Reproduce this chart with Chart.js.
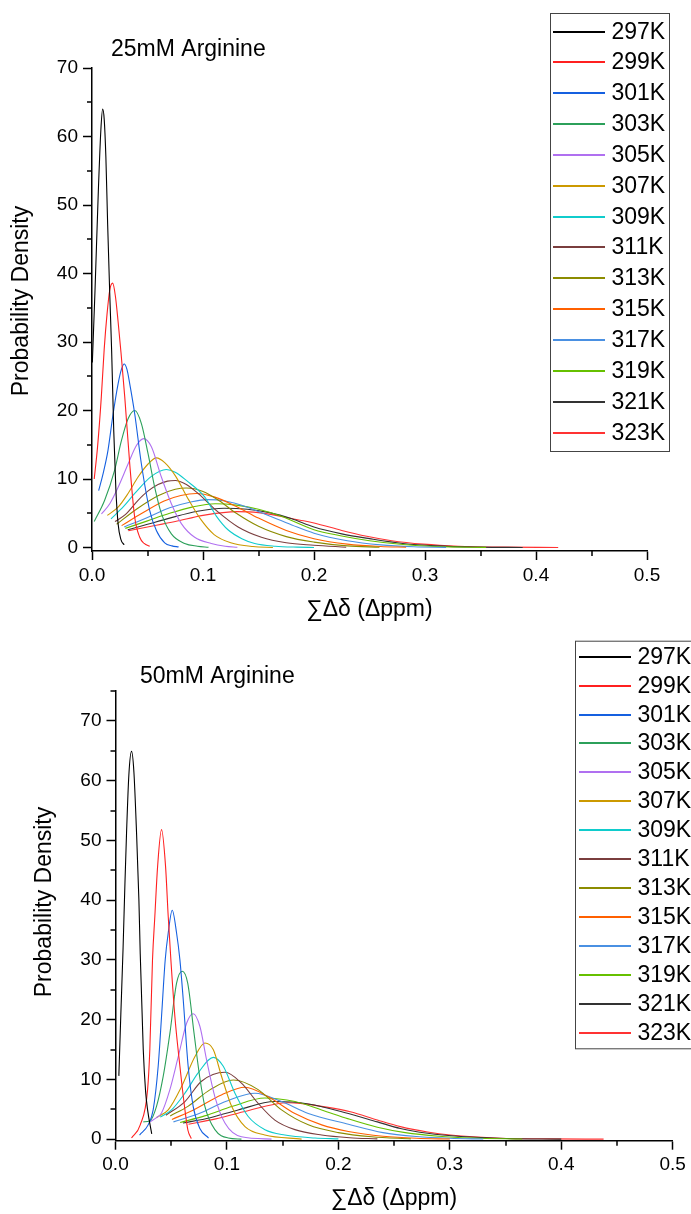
<!DOCTYPE html>
<html><head><meta charset="utf-8">
<script src="https://cdn.jsdelivr.net/npm/chart.js@4.4.0/dist/chart.umd.min.js"></script>
<style>
html,body{margin:0;padding:0;background:#fff;width:691px;height:1214px;overflow:hidden;}
canvas{position:absolute;left:0;display:block;}
</style></head><body>
<canvas id="c1" width="691" height="630" style="top:0"></canvas>
<canvas id="c2" width="691" height="584" style="top:630px"></canvas>
<script>
// ---------- labels & ticks ----------
const temps = ['297K','299K','301K','303K','305K','307K','309K','311K','313K','315K','317K','319K','321K','323K'];
const chartTitles = ['25mM Arginine', '50mM Arginine'];
const xTitle = '∑Δδ (Δppm)';
const yTitle = 'Probability Density';
const xTickValues = [0, 0.1, 0.2, 0.3, 0.4, 0.5];
const xMinorValues = [0.05, 0.15, 0.25, 0.35, 0.45];
const yTickValues = [0, 10, 20, 30, 40, 50, 60, 70];
const yMinor25 = [5, 15, 25, 35, 45, 55, 65];
const yMinor50 = [5, 15, 25, 35, 45, 55, 65, 75];

// ---------- 25 mM series [x, density] ----------
const a25_297 = [[0.0003,27],[0.0027,37.5],[0.0057,52],[0.008,61],[0.0096,64],[0.011,62.5],[0.0125,57],[0.0141,47.2],[0.0159,37.5],[0.0177,28.7],[0.0196,17],[0.0215,8.5],[0.0235,3.5],[0.026,1.2],[0.029,0.4]];
const a25_299 = [[0.002,10],[0.005,14.7],[0.0084,22],[0.011,29],[0.0135,34],[0.016,37.6],[0.0186,38.6],[0.021,36.8],[0.0235,33],[0.0261,28.5],[0.0295,22],[0.034,12.2],[0.0384,4.5],[0.043,1.5],[0.047,0.6],[0.052,0.2]];
const a25_301 = [[0.006,8.3],[0.01,10.8],[0.0144,14.2],[0.019,19.5],[0.0235,23.9],[0.0265,26],[0.029,26.8],[0.0315,26],[0.034,23.9],[0.0385,19.5],[0.0445,12.2],[0.052,5.4],[0.058,2.5],[0.0655,0.7],[0.072,0.25],[0.078,0.1]];
const a25_303 = [[0.002,3.8],[0.0114,6.9],[0.0204,11.3],[0.0265,15.6],[0.0325,18.8],[0.0385,20.0],[0.0445,18.1],[0.0505,13.7],[0.0565,8.8],[0.0625,5.0],[0.0715,2.0],[0.0835,0.6],[0.095,0.2],[0.105,0.05]];
const a25_305 = [[0.0085,4.9],[0.016,6.4],[0.0235,8.8],[0.0325,12.2],[0.040,14.9],[0.0466,15.9],[0.0535,14.7],[0.0625,10.3],[0.0715,6.4],[0.0805,3.5],[0.0925,1.5],[0.1075,0.6],[0.12,0.2],[0.131,0.05]];
const a25_307 = [[0.0138,4.7],[0.0235,5.9],[0.0325,7.9],[0.0415,10.3],[0.0505,12.2],[0.058,13.1],[0.0655,12.4],[0.075,10.5],[0.087,7.0],[0.0985,4.0],[0.11,1.9],[0.125,0.7],[0.145,0.15],[0.163,0.02]];
const a25_309 = [[0.0171,4.2],[0.0285,6.0],[0.0385,7.9],[0.0535,10.4],[0.067,11.4],[0.075,11.0],[0.085,9.8],[0.1015,7.4],[0.112,4.6],[0.1225,2.6],[0.135,1.3],[0.1466,0.6],[0.165,0.2],[0.185,0.06],[0.2,0.02]];
const a25_311 = [[0.0207,3.8],[0.03,4.8],[0.0415,6.9],[0.05,8.2],[0.0595,9.2],[0.068,9.7],[0.075,9.8],[0.085,9.2],[0.0955,7.9],[0.1135,5.2],[0.1316,3.0],[0.1526,1.5],[0.175,0.7],[0.2,0.35],[0.229,0.05]];
const a25_313 = [[0.0222,3.4],[0.04,5.6],[0.06,7.6],[0.075,8.5],[0.085,8.7],[0.1,8.2],[0.115,6.8],[0.13,5.0],[0.15,3.1],[0.175,1.6],[0.2,0.8],[0.23,0.25],[0.259,0.05]];
const a25_315 = [[0.0267,3.2],[0.045,5.0],[0.065,6.8],[0.08,7.6],[0.094,7.9],[0.11,7.4],[0.13,6.0],[0.15,4.3],[0.175,2.5],[0.2,1.3],[0.23,0.5],[0.26,0.15],[0.283,0.05]];
const a25_317 = [[0.029,3.0],[0.05,4.4],[0.07,5.8],[0.09,6.7],[0.104,7.0],[0.12,6.8],[0.14,5.9],[0.16,4.6],[0.18,3.3],[0.2,2.1],[0.23,1.0],[0.26,0.4],[0.29,0.12],[0.319,0.03]];
const a25_319 = [[0.030,2.8],[0.05,3.9],[0.07,5.0],[0.09,5.9],[0.111,6.4],[0.13,6.2],[0.15,5.6],[0.17,4.6],[0.2,2.6],[0.225,1.7],[0.25,1.0],[0.28,0.45],[0.31,0.15],[0.355,0.03]];
const a25_321 = [[0.0322,2.6],[0.05,3.4],[0.07,4.3],[0.095,5.3],[0.119,5.75],[0.14,5.6],[0.16,5.1],[0.18,4.2],[0.2,3.0],[0.225,2.0],[0.25,1.3],[0.28,0.6],[0.31,0.25],[0.35,0.07],[0.388,0.02]];
const a25_323 = [[0.0327,2.45],[0.05,3.0],[0.075,3.8],[0.1,4.7],[0.131,5.25],[0.15,5.1],[0.1874,4.0],[0.2,3.6],[0.225,2.5],[0.2475,1.65],[0.27,1.0],[0.2985,0.5],[0.33,0.2],[0.37,0.07],[0.42,0.01]];

// ---------- 50 mM series [x, density] ----------
const a50_297 = [[0.003,10.6],[0.0048,21],[0.0068,32],[0.0085,43],[0.0099,51.2],[0.012,61],[0.0144,64.9],[0.0165,61.5],[0.0189,51.2],[0.021,40],[0.0222,31],[0.0249,15],[0.027,8],[0.0288,4.9],[0.0325,0.9]];
const a50_299 = [[0.0144,0.2],[0.0222,2.4],[0.0288,8.3],[0.0308,15],[0.0332,30],[0.0353,37.3],[0.0378,45.7],[0.0413,51.8],[0.0449,45.7],[0.0473,37.3],[0.0497,30],[0.0533,20.5],[0.0578,12.2],[0.0623,4.9],[0.065,1.5],[0.068,0.1]];
const a50_301 = [[0.0216,0.7],[0.0293,2.4],[0.0338,4.9],[0.0383,12.2],[0.0413,20.5],[0.0446,30],[0.0473,34.5],[0.0509,38.3],[0.0548,34.5],[0.0578,30],[0.0608,23.3],[0.0652,12.2],[0.0697,5.5],[0.0757,1.8],[0.0835,0.2]];
const a50_303 = [[0.025,2.9],[0.031,3.1],[0.0368,5.5],[0.0428,10.5],[0.0488,17.7],[0.0548,26.1],[0.0599,28.1],[0.0648,26.1],[0.0705,17.7],[0.0755,10.5],[0.0802,5.5],[0.0892,1.6],[0.1012,0.2],[0.113,0.02]];
const a50_305 = [[0.031,2.9],[0.0368,3.6],[0.0413,4.4],[0.0488,8.3],[0.0563,13.8],[0.0638,19.4],[0.0697,21.0],[0.0757,18.9],[0.0817,13.3],[0.0892,7.1],[0.0982,2.7],[0.113,0.4],[0.14,0.02]];
const a50_307 = [[0.0365,3.6],[0.0473,4.9],[0.0593,8.8],[0.0712,13.8],[0.0802,16.1],[0.0877,15],[0.0952,10.5],[0.1042,5.5],[0.1162,2.1],[0.134,0.7],[0.167,0.02]];
const a50_309 = [[0.0401,3.7],[0.0503,4.9],[0.0623,7.7],[0.0742,11.1],[0.0877,13.7],[0.0967,12.2],[0.1072,7.7],[0.1191,3.8],[0.1341,1.6],[0.152,0.7],[0.179,0.2],[0.2,0.05]];
const a50_311 = [[0.0452,4.0],[0.0623,6.3],[0.0772,9.7],[0.0982,11.2],[0.113,9.4],[0.128,6.0],[0.143,3.2],[0.161,1.6],[0.185,0.7],[0.21,0.25],[0.235,0.05]];
const a50_313 = [[0.0491,3.9],[0.065,5.5],[0.085,8.3],[0.1057,9.9],[0.128,8.3],[0.149,4.9],[0.173,2.4],[0.2,1.1],[0.23,0.4],[0.265,0.05]];
const a50_315 = [[0.0506,3.3],[0.07,4.9],[0.095,7.4],[0.1162,8.7],[0.137,7.1],[0.161,4.3],[0.185,2.4],[0.209,1.3],[0.24,0.5],[0.27,0.15],[0.3,0.03]];
const a50_317 = [[0.052,2.9],[0.075,4.3],[0.1,6.4],[0.1251,7.7],[0.149,6.3],[0.173,4.3],[0.209,2.5],[0.24,1.1],[0.27,0.45],[0.3,0.15],[0.33,0.03]];
const a50_319 = [[0.058,2.8],[0.08,3.9],[0.105,5.5],[0.134,6.9],[0.161,6.3],[0.185,4.9],[0.209,3.4],[0.235,2.0],[0.26,1.1],[0.29,0.5],[0.32,0.2],[0.365,0.03]];
const a50_321 = [[0.0605,2.7],[0.085,3.6],[0.11,4.9],[0.143,6.3],[0.173,5.9],[0.209,4.3],[0.235,2.9],[0.2556,1.8],[0.28,1.0],[0.31,0.45],[0.35,0.12],[0.40,0.02]];
const a50_323 = [[0.0655,2.5],[0.09,3.4],[0.115,4.6],[0.155,6.1],[0.1658,6.0],[0.185,5.5],[0.2107,4.6],[0.235,3.2],[0.2556,2.1],[0.28,1.2],[0.3005,0.7],[0.345,0.17],[0.39,0.05],[0.438,0.01]];

const series25 = [a25_297,a25_299,a25_301,a25_303,a25_305,a25_307,a25_309,a25_311,a25_313,a25_315,a25_317,a25_319,a25_321,a25_323];
const series50 = [a50_297,a50_299,a50_301,a50_303,a50_305,a50_307,a50_309,a50_311,a50_313,a50_315,a50_317,a50_319,a50_321,a50_323];

// ---------- styles ----------
const palette = ['#000000','#ff2020','#1560e0','#2ca05a','#b070f0','#cc9900','#10cccc','#7a3e3e','#8c8c00','#ff6000','#4a90e2','#66c000','#333333','#ff3333'];
const FONT = '"Liberation Sans", Arial, Helvetica, sans-serif';

const decor = {
  id: 'decor',
  afterDraw(chart, args, o) {
    const ctx = chart.ctx, ca = chart.chartArea;
    const xs = chart.scales.x, ys = chart.scales.y;
    ctx.save();
    // minor ticks
    ctx.strokeStyle = '#000'; ctx.lineWidth = 1.5;
    ctx.beginPath();
    o.yMinor.forEach(v => { const p = Math.round(ys.getPixelForValue(v)); ctx.moveTo(ca.left, p); ctx.lineTo(ca.left - 5, p); });
    o.xMinor.forEach(v => { const p = Math.round(xs.getPixelForValue(v)); ctx.moveTo(p, ca.bottom); ctx.lineTo(p, ca.bottom + 5); });
    ctx.stroke();
    // texts
    ctx.fillStyle = '#000';
    o.texts.forEach(t => {
      ctx.save();
      ctx.font = t.font;
      ctx.translate(t.x, t.y);
      if (t.rot) ctx.rotate(t.rot);
      ctx.textAlign = t.align || 'center';
      ctx.textBaseline = t.baseline || 'middle';
      ctx.fillText(t.text, 0, 0);
      ctx.restore();
    });
    // legend
    const L = o.legend;
    ctx.strokeStyle = '#444'; ctx.lineWidth = 1;
    ctx.strokeRect(L.x + 0.5, L.y + 0.5, L.w, L.h);
    ctx.font = L.font; ctx.textAlign = 'left'; ctx.textBaseline = 'middle';
    chart.data.datasets.forEach((ds, i) => {
      const y = Math.round(L.first + i * L.step);
      ctx.strokeStyle = ds.borderColor; ctx.lineWidth = 2;
      ctx.beginPath(); ctx.moveTo(L.lx0, y); ctx.lineTo(L.lx1, y); ctx.stroke();
      ctx.fillStyle = '#000';
      ctx.fillText(ds.label, L.tx, y + 1);
    });
    ctx.restore();
  }
};

function makeChart(id, series, cfg) {
  const datasets = series.map((pts, i) => ({
    label: temps[i],
    data: pts.map(p => ({x: p[0], y: p[1]})),
    borderColor: palette[i],
    borderWidth: 1.1,
    pointRadius: 0,
    fill: false,
    cubicInterpolationMode: 'monotone'
  }));
  return new Chart(document.getElementById(id), {
    type: 'line',
    data: {datasets},
    plugins: [decor],
    options: {
      responsive: false,
      animation: false,
      events: [],
      layout: {padding: cfg.padding},
      plugins: {legend: {display: false}, tooltip: {enabled: false}, title: {display: false}, decor: cfg.decor},
      scales: {
        x: {
          type: 'linear', min: 0, max: 0.5,
          afterBuildTicks: s => { s.ticks = xTickValues.map(v => ({value: v})); },
          afterFit: s => { s.height = cfg.xHeight; },
          ticks: {autoSkip: false, maxRotation: 0, padding: 4, color: '#000', font: {family: FONT, size: 19}, callback: v => Number(v).toFixed(1)},
          grid: {display: true, drawOnChartArea: false, drawTicks: true, tickLength: 9, tickWidth: 1.5, tickColor: '#000'},
          border: {display: true, color: '#000', width: 1.5}
        },
        y: {
          type: 'linear', min: cfg.yMin, max: cfg.yMax,
          afterBuildTicks: s => { s.ticks = yTickValues.map(v => ({value: v})); },
          afterFit: s => { s.width = cfg.yWidth; },
          ticks: {padding: 5, color: '#000', font: {family: FONT, size: 19}, callback: v => String(v)},
          grid: {display: true, drawOnChartArea: false, drawTicks: true, tickLength: 9, tickWidth: 1.5, tickColor: '#000'},
          border: {display: true, color: '#000', width: 1.5}
        }
      }
    }
  });
}

const F23 = '23px ' + FONT;
makeChart('c1', series25, {
  padding: {left: 0, top: 68, right: 44, bottom: 0},
  xHeight: 79, yWidth: 92, yMin: -0.5, yMax: 70,
  decor: {
    yMinor: yMinor25, xMinor: xMinorValues,
    texts: [
      {text: chartTitles[0], x: 111, y: 56, font: F23, align: 'left', baseline: 'alphabetic'},
      {text: xTitle, x: 369.5, y: 610, font: F23},
      {text: yTitle, x: 22, y: 301, font: F23, rot: -Math.PI / 2}
    ],
    legend: {x: 550, y: 13, w: 119, h: 438, first: 31.5, step: 30.85, lx0: 553, lx1: 605, tx: 611.5, font: F23}
  }
});
makeChart('c2', series50, {
  padding: {left: 0, top: 61, right: 18.3, bottom: 0},
  xHeight: 73.3, yWidth: 115.5, yMin: -0.25, yMax: 75,
  decor: {
    yMinor: yMinor50, xMinor: xMinorValues,
    texts: [
      {text: chartTitles[1], x: 140, y: 53.3, font: F23, align: 'left', baseline: 'alphabetic'},
      {text: xTitle, x: 394, y: 569, font: F23},
      {text: yTitle, x: 45, y: 272, font: F23, rot: -Math.PI / 2}
    ],
    legend: {x: 575, y: 10.7, w: 130, h: 407.6, first: 26.7, step: 28.92, lx0: 579, lx1: 631, tx: 637.5, font: F23}
  }
});
</script>
</body></html>
